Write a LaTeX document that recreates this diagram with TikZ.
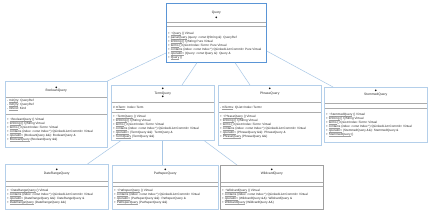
\documentclass[tikz,border=0pt]{standalone}
\usepackage{fontspec}
\setmainfont{Liberation Sans}
\newfontfamily\symf{DejaVu Sans}
\definecolor{boxc}{HTML}{B4CFEA}
\definecolor{selc}{HTML}{5A95D6}
\definecolor{linec}{HTML}{A8C7E6}
\definecolor{txtc}{HTML}{2A2A2A}
\definecolor{ulc}{HTML}{A0A0A0}
\tikzset{
  clsbox/.style={draw=boxc, line width=0.5pt, fill=white, anchor=north west, inner sep=0pt},
  txt/.style={font=\fontsize{3.1}{4}\selectfont, inner sep=0pt, text=txtc, anchor=base west},
  ttl/.style={font=\fontsize{3.3}{4}\selectfont, inner sep=0pt, text=txtc},
  mk/.style={font=\symf\fontsize{2.6}{3}\selectfont, inner sep=0pt, text=black},
  sepl/.style={draw=gray!65, line width=0.35pt},
  conn/.style={draw=linec, line width=0.5pt},
}
\newsavebox\ulbox
\newcommand\ul[1]{\sbox\ulbox{#1}\rlap{\textcolor{ulc}{\rule[-0.5pt]{\wd\ulbox}{0.2pt}}}\usebox\ulbox}
\newcommand\clsnode[5]{\node[clsbox, minimum width=#4pt, minimum height=#5pt] (#1) at (#2,-#3) {};}
\newcommand\sepline[2]{\draw[sepl] ([xshift=1pt,yshift=-#2pt]#1.north west) -- ([xshift=-1pt,yshift=-#2pt]#1.north east);}
\newcommand\members[4]{\foreach \t [count=\i from 0] in {#3}{\node[txt] (#1#4\i) at ([xshift=2pt,yshift=-#2pt-4pt*\i]#1.north west) {\t};}}
\newcommand\tl{\textasciitilde}
\begin{document}
\begin{tikzpicture}[x=1pt,y=1pt]
\fill[white] (0,0) rectangle (432,-214);
\useasboundingbox (0,0) rectangle (432,-214);

% Query
\node[clsbox, draw=selc, line width=0.7pt, minimum width=100pt, minimum height=59pt] (q) at (166,-3) {};
\node[ttl] (qT) at ([yshift=-10pt]q.north) {Query};
\node[mk] (qM) at ([yshift=-15pt]q.north) {◆};
\sepline{q}{19.3}
\sepline{q}{22.7}
\members{q}{31.3}{+ \ul{\tl Query} () Virtual,+ \ul{parseQuery} (query: const QString \&): QueryRef,+ \ul{toString} () QString Pure Virtual,+ \ul{terms} () QList<Index::Term> Pure Virtual,+ \ul{contains} (index: const Index *) QLinkedList<Commit> Pure Virtual,+ \ul{operator=} (Query: const Query \&): Query \&,+ \ul{Query} ()}{m}

% BooleanQuery
\clsnode{b}{5}{81}{102}{66}
\node[mk] (bM) at ([yshift=-6.7pt]b.north) {◆};
\node[ttl] (bT) at ([yshift=-9.6pt]b.north) {BooleanQuery};
\sepline{b}{16.3}
\members{b}{20.7}{- \ul{m1Qry}: QueryRef,- \ul{m2Qry}: QueryRef,- \ul{mKind}: Kind}{a}
\sepline{b}{33.3}
\members{b}{39.3}{+ \ul{\tl BooleanQuery} () Virtual,+ \ul{toString} () QString Virtual,+ \ul{terms} () QList<Index::Term> Virtual,+ \ul{contains} (index: const Index *) QLinkedList<Commit> Virtual,+ \ul{operator=} (BooleanQuery \&\&): BooleanQuery \&,+ \ul{BooleanQuery} (BooleanQuery \&\&)}{m}

% TermQuery
\clsnode{t}{111}{85}{103}{55}
\node[mk] (tM) at ([yshift=-3.4pt]t.north) {◆};
\node[ttl] (tT) at ([yshift=-8.3pt]t.north) {TermQuery};
\node[mk] (tM2) at ([yshift=-12.3pt]t.north) {◆};
\sepline{t}{16.7}
\members{t}{23.3}{\# \ul{mTerm}: Index::Term}{a}
\sepline{t}{26.7}
\members{t}{32.7}{+ \ul{\tl TermQuery} () Virtual,+ \ul{toString} () QString Virtual,+ \ul{terms} () QList<Index::Term> Virtual,+ \ul{contains} (index: const Index *) QLinkedList<Commit> Virtual,+ \ul{operator=} (TermQuery \&\&): TermQuery \&,+ \ul{TermQuery} (TermQuery \&\&)}{m}

% PhraseQuery
\clsnode{p}{218}{85}{103}{60}
\node[mk] (pM) at ([yshift=-4pt]p.north) {◆};
\node[ttl] (pT) at ([yshift=-9pt]p.north) {PhraseQuery};
\sepline{p}{16.7}
\members{p}{23.3}{- \ul{mTerms}: QList<Index::Term>}{a}
\sepline{p}{26.7}
\members{p}{32.7}{+ \ul{\tl PhraseQuery} () Virtual,+ \ul{toString} () QString Virtual,+ \ul{terms} () QList<Index::Term> Virtual,+ \ul{contains} (index: const Index *) QLinkedList<Commit> Virtual,+ \ul{operator=} (PhraseQuery \&\&): PhraseQuery \&,+ \ul{PhraseQuery} (PhraseQuery \&\&)}{m}

% StemmedQuery
\clsnode{s}{324}{87}{103}{55}
\node[mk] (sM) at ([yshift=-3.7pt]s.north) {◆};
\node[ttl] (sT) at ([yshift=-7.3pt]s.north) {StemmedQuery};
\sepline{s}{16.3}
\sepline{s}{21.3}
\members{s}{28.3}{+ \ul{\tl StemmedQuery} () Virtual,+ \ul{toString} () QString Virtual,+ \ul{terms} () QList<Index::Term> Virtual,+ \ul{contains} (index: const Index *) QLinkedList<Commit> Virtual,+ \ul{operator=} (StemmedQuery \&\&): StemmedQuery \&,+ \ul{StemmedQuery} ()}{m}

% DateRangeQuery
\clsnode{d}{5}{164}{103}{45}
\node[mk] (dM) at ([yshift=-6pt]d.north) {◆};
\node[ttl] (dT) at ([yshift=-9.3pt]d.north) {DateRangeQuery};
\sepline{d}{16.7}
\sepline{d}{21.7}
\members{d}{27.7}{+ \ul{\tl DateRangeQuery} () Virtual,+ \ul{contains} (index: const Index *) QLinkedList<Commit> Virtual,+ \ul{operator=} (DateRangeQuery \&\&): DateRangeQuery \&,+ \ul{DateRangeQuery} (DateRangeQuery \&\&)}{m}

% PathspecQuery
\clsnode{ps}{112}{165}{106}{44}
\node[mk] (psM) at ([yshift=-5pt]ps.north) {◆};
\node[ttl] (psT) at ([yshift=-9pt]ps.north) {PathspecQuery};
\sepline{ps}{16.7}
\sepline{ps}{20.7}
\members{ps}{26.7}{+ \ul{\tl PathspecQuery} () Virtual,+ \ul{contains} (index: const Index *) QLinkedList<Commit> Virtual,+ \ul{operator=} (PathspecQuery \&\&): PathspecQuery \&,+ \ul{PathspecQuery} (PathspecQuery \&\&)}{m}

% WildcardQuery
\node[clsbox, draw=gray!75, line width=0.6pt, minimum width=103pt, minimum height=44pt] (w) at (220,-165) {};
\node[mk] (wM) at ([yshift=-5pt]w.north) {◆};
\node[ttl] (wT) at ([yshift=-9pt]w.north) {WildcardQuery};
\sepline{w}{16.7}
\sepline{w}{20.7}
\members{w}{26.7}{+ \ul{\tl WildcardQuery} () Virtual,+ \ul{contains} (index: const Index *) QLinkedList<Commit> Virtual,+ \ul{operator=} (WildcardQuery \&\&): WildcardQuery \&,+ \ul{WildcardQuery} (WildcardQuery \&\&)}{m}

% connectors
\draw[conn] ([yshift=-50pt]q.north west) -- (b.north east);
\draw[conn] ([xshift=31pt]q.south west) -- ([xshift=71pt]t.north west);
\draw[conn] ([xshift=69pt]q.south west) -- ([xshift=32pt]p.north west);
\draw[conn] ([yshift=-48pt]q.north east) -- ([xshift=9pt]s.north west);
\draw[conn] ([xshift=10pt]t.south west) -- ([xshift=-21pt]d.north east);
\draw[conn] ([xshift=51pt]t.south west) -- ([xshift=50pt]ps.north west);
\draw[conn] ([xshift=93pt]t.south west) -- ([xshift=17pt]w.north west);
\end{tikzpicture}
\end{document}
